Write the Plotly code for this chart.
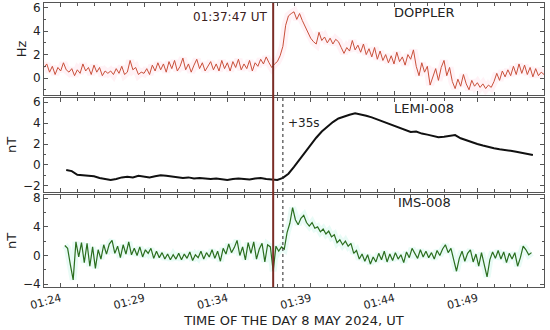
import pandas as pd
import plotly.graph_objects as go

# ---------------- data ----------------
doppler_start = "2024-05-08 01:23:00"   # 10 s cadence
doppler_hz = [
    0.9, 1.2, 0.5, 1.0, 0.3, 0.9,
    0.6, 1.3, 0.7, 0.5, 0.8, 0.2,
    0.7, 0.4, 1.2, 0.6, 0.9, 0.3,
    1.1, 0.5, 0.9, 0.2, 0.6, 0.4,
    0.6, 0.3, 0.8, 0.4, 1.0, 0.3,
    0.5, 1.5, 0.7, 0.9, 0.3, 0.5,
    0.4, 0.8, 0.3, 1.1, 0.6, 1.3,
    0.7, 1.2, 0.5, 1.4, 0.8, 1.5,
    0.6, 1.0, 1.7, 0.7, 1.2, 0.5,
    1.1, 1.6, 0.8, 1.3, 0.6, 1.0,
    1.4, 0.7, 1.2, 0.6, 1.5, 0.8,
    1.3, 0.6, 1.4, 0.9, 1.6, 0.7,
    1.2, 0.8, 1.5, 0.6, 1.3, 1.0,
    1.6, 1.2, 1.8, 1.3, 0.9, 1.2,
    1.4, 1.9, 2.7, 4.5, 5.3, 5.5,
    5.65, 5.0, 5.5, 4.9, 4.4, 3.8,
    3.4, 3.1, 2.9, 3.9, 3.2, 3.5,
    3.0, 3.4, 2.9, 3.3, 3.1, 2.6,
    2.1, 2.6, 2.3, 3.2, 2.4, 2.8,
    2.2, 2.9, 2.0, 2.5, 1.8, 2.6,
    1.6, 2.3, 1.5, 2.0, 1.3, 1.9,
    1.2, 2.2, 1.4, 1.8, 1.1, 2.0,
    1.6, 2.4, 1.0, 0.2, 1.3, 0.5,
    1.0, -0.6, 0.1, 0.8, -0.2, 0.9,
    1.5, 0.2, 0.9, -0.3, -0.9, -0.1,
    -0.7, 0.3, -0.5, -1.0, -0.2, -0.7,
    -0.4, -0.8, -0.5, -0.9, -0.6, -0.8,
    -0.3, 0.4, -0.2, 0.6, 0.1, 0.7,
    0.2, 1.0, 0.3, 1.2, 0.4, 1.1,
    0.3, 0.9, 0.1, 0.8, 0.2, 0.5,
    0.3,
]

lemi_start = "2024-05-08 01:24:20"   # 20 s cadence
lemi_nt = [
    -0.5, -0.6, -0.95, -1.0, -1.05, -1.1,
    -1.25, -1.35, -1.45, -1.35, -1.2, -1.15,
    -1.2, -1.05, -1.15, -1.2, -1.1, -1.0,
    -1.05, -1.1, -1.15, -1.25, -1.2, -1.3,
    -1.25, -1.3, -1.35, -1.3, -1.4, -1.45,
    -1.35, -1.3, -1.35, -1.4, -1.3, -1.25,
    -1.35, -1.4, -1.45, -1.25, -0.85, -0.2,
    0.5, 1.25, 2.0, 2.6, 3.2, 3.65,
    4.1, 4.45, 4.65, 4.8, 4.95, 4.85,
    4.7, 4.55, 4.35, 4.15, 3.95, 3.7,
    3.55, 3.35, 3.15, 3.2, 3.0, 2.9,
    2.8, 2.65, 2.7, 2.75, 2.85, 2.55,
    2.35, 2.2, 2.0, 1.85, 1.7, 1.6,
    1.5, 1.45, 1.35, 1.25, 1.15, 1.05,
    0.95,
]

ims_start = "2024-05-08 01:24:15"   # 10 s cadence
ims_nt = [
    1.4, 1.0, -1.3, -3.4, 1.9, -0.2,
    1.8, -1.0, 1.7, -1.5, 1.2, -1.8,
    0.8, -0.5, 1.5, 0.2, 1.6, 2.1,
    0.3, 1.3, -0.3, 1.5, 0.2, 1.9,
    0.1, 1.0, 0.0, 1.2, -0.2, 0.8,
    0.3, 1.0, -0.4, 0.6, -0.3, 0.4,
    -0.5, 0.2, -0.6, 0.1, -0.5, 0.3,
    -0.6, 0.2, -0.4, 0.5, -0.7, 0.1,
    -0.3, 0.6, -0.5, 0.4, -0.2, 0.8,
    -0.4, 0.6, -0.8, 1.0, 0.2, 1.6,
    0.4, 1.1, 2.1, 0.0, 1.2, -0.6,
    1.8, 0.3, 1.9, -0.5, 0.9, 1.7,
    -0.9, 1.5, 1.2, -2.2, 1.3, 0.6,
    1.2, 0.9, 3.2, 4.5, 6.7, 5.0,
    4.3, 5.2, 5.6, 4.6, 4.1, 4.6,
    3.8, 4.0, 3.3, 3.7, 3.0, 3.4,
    2.6, 2.9, 1.8, 2.2, 1.5, 2.0,
    1.3, 1.7, 0.3, 0.7, -0.5, 0.2,
    -0.8, 0.1, -1.2, -0.2, -0.9, 0.3,
    -0.6, 0.6, -0.9, 0.2, -0.7, 0.4,
    -0.5, 0.1, -1.0, 0.5, -0.3, 1.0,
    0.3, -0.4, 0.8, -0.2, 0.6, -0.3,
    0.4, -0.5, 0.7, 0.0, 0.9, 1.5,
    0.4, 1.0, -0.6, -2.2, -0.4, 0.6,
    -0.8, 0.3, 0.8, -0.9, 0.2, -1.5,
    0.4, -1.2, -3.0, -0.6, 0.5, -0.4,
    0.7, -0.5, 0.5, -1.0, 0.3, -0.5,
    0.4, -1.5, -0.3, 1.3, 0.8, 0.1,
    0.4,
]

event_time = "2024-05-08 01:36:45"
delay_time = "2024-05-08 01:37:20"
x_range = ["2024-05-08 01:23:00", "2024-05-08 01:53:00"]
panel_labels = ["DOPPLER", "LEMI-008", "IMS-008"]
y_titles = ["Hz", "nT", "nT"]

t_dop = pd.date_range(doppler_start, periods=len(doppler_hz), freq="10s")
t_lemi = pd.date_range(lemi_start, periods=len(lemi_nt), freq="20s")
t_ims = pd.date_range(ims_start, periods=len(ims_nt), freq="10s")

FONT = "DejaVu Sans"
AX = "#555555"
fig = go.Figure()

# Doppler: halo + line
fig.add_trace(go.Scatter(x=t_dop, y=doppler_hz, mode="lines", xaxis="x", yaxis="y",
                         line=dict(color="rgba(255,150,180,0.12)", width=8), hoverinfo="skip"))
fig.add_trace(go.Scatter(x=t_dop, y=doppler_hz, mode="lines", xaxis="x", yaxis="y",
                         line=dict(color="#c9503a", width=1)))
# LEMI
fig.add_trace(go.Scatter(x=t_lemi, y=lemi_nt, mode="lines", xaxis="x2", yaxis="y2",
                         line=dict(color="#111111", width=2)))
# IMS: halo + line
fig.add_trace(go.Scatter(x=t_ims, y=ims_nt, mode="lines", xaxis="x3", yaxis="y3",
                         line=dict(color="rgba(120,230,200,0.16)", width=7), hoverinfo="skip"))
fig.add_trace(go.Scatter(x=t_ims, y=ims_nt, mode="lines", xaxis="x3", yaxis="y3",
                         line=dict(color="#2a6e1e", width=1.2)))

xcommon = dict(type="date", range=x_range, tick0="2024-05-08 01:24:00", dtick=300000,
               tickformat="%H:%M", ticks="inside", ticklen=4, tickcolor=AX,
               minor=dict(dtick=60000, ticks="inside", ticklen=3, tickcolor=AX),
               showline=True, linecolor=AX, linewidth=1, mirror="allticks",
               showgrid=False, zeroline=False, automargin=False)
ycommon = dict(ticks="inside", ticklen=4, tickcolor=AX, showline=True, linecolor=AX,
               linewidth=1, mirror="allticks", showgrid=False, zeroline=False,
               automargin=False,
               tickfont=dict(family=FONT, size=12, color="#222"),
               title=dict(font=dict(family=FONT, size=13, color="#222"), standoff=3))

doms = [[0.676, 1.0], [0.3345, 0.667], [0.0, 0.324]]
fig.update_layout(
    width=550, height=330,
    margin=dict(l=44, r=6, t=3, b=43, autoexpand=False),
    paper_bgcolor="white", plot_bgcolor="white",
    showlegend=False,
    font=dict(family=FONT, size=12, color="#222"),
    xaxis=dict(xcommon, anchor="y", showticklabels=False),
    xaxis2=dict(xcommon, anchor="y2", matches="x", showticklabels=False),
    xaxis3=dict(xcommon, anchor="y3", matches="x", showticklabels=True, tickangle=-15,
                tickfont=dict(family=FONT, size=11, color="#222"),
                title=dict(text="TIME OF THE DAY 8 MAY 2024, UT",
                           font=dict(family=FONT, size=13, color="#222"), standoff=4)),
    yaxis=dict(ycommon, domain=doms[0], range=[-1.45, 6.4], tickvals=[0, 2, 4, 6],
               minor=dict(dtick=1, ticks="inside", ticklen=2, tickcolor=AX),
               title_text=y_titles[0]),
    yaxis2=dict(ycommon, domain=doms[1], range=[-2.6, 6.45], tickvals=[-2, 0, 2, 4, 6],
                minor=dict(dtick=1, ticks="inside", ticklen=2, tickcolor=AX),
                title_text=y_titles[1]),
    yaxis3=dict(ycommon, domain=doms[2], range=[-4.4, 8.45], tickvals=[-4, 0, 4, 8],
                minor=dict(dtick=2, ticks="inside", ticklen=2, tickcolor=AX),
                title_text=y_titles[2]),
)

# vertical markers
fig.add_shape(type="line", xref="x", yref="paper", x0=event_time, x1=event_time,
              y0=0, y1=1, line=dict(color="#7b2d26", width=2))
fig.add_shape(type="line", xref="x", yref="paper", x0=delay_time, x1=delay_time,
              y0=0, y1=doms[1][1], line=dict(color="#222", width=1, dash="dot"))

# annotations
fig.add_annotation(xref="x", yref="paper", x=event_time, y=0.949, text="01:37:47 UT",
                   showarrow=False, xanchor="right", xshift=-4, yanchor="middle",
                   font=dict(family=FONT, size=12, color="#3a2020"))
fig.add_annotation(xref="x", yref="paper", x=delay_time, y=0.579, text="+35s",
                   showarrow=False, xanchor="left", xshift=3, yanchor="middle",
                   font=dict(family=FONT, size=12, color="#222"))
label_y = [0.965, 0.630, 0.296]
for lbl, ly in zip(panel_labels, label_y):
    fig.add_annotation(xref="paper", yref="paper", x=0.76, y=ly, text=lbl,
                       showarrow=False, xanchor="center", yanchor="middle",
                       font=dict(family=FONT, size=13, color="#222"))

fig.write_html("out.html", config={"displayModeBar": False},
               post_script="document.body.style.margin='0';document.body.style.overflow='hidden';")
